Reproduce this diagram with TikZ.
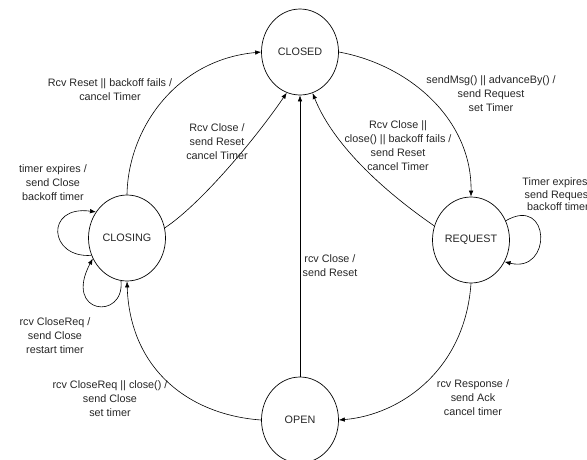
\documentclass[tikz,border=0pt]{standalone}
\usepackage{fontspec}
\setmainfont{Liberation Sans}
\usetikzlibrary{arrows.meta,shapes.geometric}
\begin{document}
\begin{tikzpicture}[x=1pt,y=-1pt,
  state/.style={ellipse,draw,line width=0.7pt,minimum width=77pt,minimum height=86pt,inner sep=0pt,font=\fontsize{10.8}{13}\selectfont,text=black!85},
  lbl/.style={align=center,font=\fontsize{10.8}{14}\selectfont,text=black!85,inner sep=0pt},
  tr/.style={draw,line width=0.6pt,-{Latex[length=6pt,width=4.5pt]}}]
\useasboundingbox (0,0) rectangle (587,459);
\clip (0,0) rectangle (587,459);
\node[state] (closed) at (300,52) {CLOSED};
\node[state] (closing) at (127,238) {CLOSING};
\node[state] (request) at (471,240) {REQUEST};
\node[state] (open) at (300,420) {OPEN};
% transitions
\draw[tr] (closing.north) .. controls +(1,-65) and +(-86,8) .. (closed.west);
\draw[tr] (closing.15) .. controls +(35,-23) and +(-32,47) .. (closed.252);
\draw[tr] (closed.east) .. controls +(71,13) and +(1,-77) .. (request.north);
\draw[tr] (request.159) .. controls +(-45,-31) and +(22,55) .. (closed.287);
\draw[tr] (open.north) -- (closed.south);
\draw[tr] (request.south) .. controls +(-6,87) and +(61,-5) .. (open.east);
\draw[tr] (open.west) .. controls +(-71,-5) and +(3,89) .. (closing.south);
\draw[tr] (closing.206) .. controls +(-43,3) and +(-51,-7) .. (closing.140);
\draw[tr] (closing.262) .. controls +(4,40) and +(-30,56) .. (closing.211);
\draw[tr] (request.29) .. controls +(45,-26) and +(48,12) .. (request.327);
% labels
\node[lbl] (l1) at (110,89.5) {Rcv Reset || backoff fails /\\cancel Timer};
\node[lbl] (l2) at (217,142) {Rcv Close /\\send Reset\\cancel Timer};
\node[lbl] (l3) at (491,93.5) {sendMsg() || advanceBy() /\\send Request\\set Timer};
\node[lbl] (l4) at (398,145.5) {Rcv Close ||\\close() || backoff fails /\\send Reset\\cancel Timer};
\node[lbl] (l5) at (53,183) {timer expires /\\send Close\\backoff timer};
\node[lbl] (l6) at (55,336) {rcv CloseReq /\\send Close\\restart timer};
\node[lbl] (l7) at (110,398.5) {rcv CloseReq || close() /\\send Close\\set timer};
\node[lbl] (l8) at (330,265.5) {rcv Close /\\send Reset};
\node[lbl] (l9) at (473,398) {rcv Response /\\send Ack\\cancel timer};
\node[lbl,font=\fontsize{10.8}{12.5}\selectfont] (l10) at (558,194.5) {Timer expires /\\send Request\\backoff timer};
\end{tikzpicture}
\end{document}
